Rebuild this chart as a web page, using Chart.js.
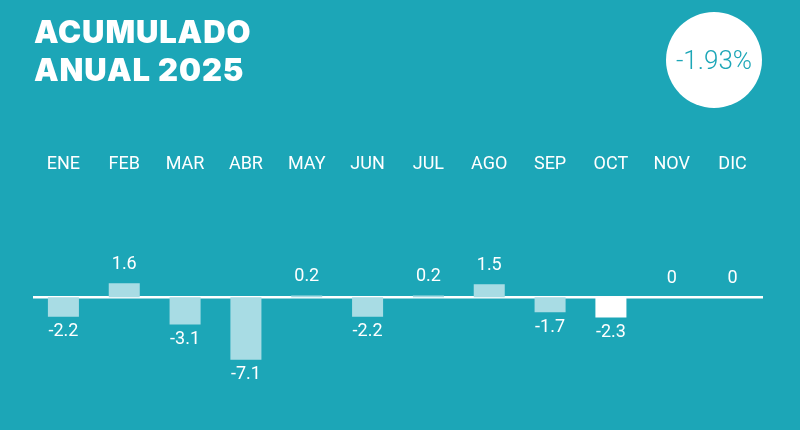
<!DOCTYPE html>
<html>
<head>
<meta charset="utf-8">
<script src="https://cdn.jsdelivr.net/npm/chart.js@4.4.1/dist/chart.umd.min.js"></script>
<style>
  html, body { margin:0; padding:0; background:#1ca6b7; }
  #wrap { position:relative; width:800px; height:430px; background:#1ca6b7; overflow:hidden; }
  #chart { position:absolute; left:0; top:0; }
  #title { position:absolute; left:34px; top:13px; color:#fff; font-family:"Inter","Roboto",sans-serif; font-weight:900; font-size:31px; line-height:38px; letter-spacing:0.9px; }
  #badge { position:absolute; left:666px; top:12px; width:96px; height:96px; border-radius:50%; background:#fff; color:#1ca6b7; font-family:"Roboto",sans-serif; font-weight:300; font-size:26px; display:flex; align-items:center; justify-content:center; }
</style>
</head>
<body>
<div id="wrap">
  <canvas id="chart" width="800" height="430"></canvas>
  <div id="title">ACUMULADO<br>ANUAL 2025</div>
  <div id="badge">-1.93%</div>
</div>
<script>
const months = ["ENE","FEB","MAR","ABR","MAY","JUN","JUL","AGO","SEP","OCT","NOV","DIC"];
const values = [-2.2, 1.6, -3.1, -7.1, 0.2, -2.2, 0.2, 1.5, -1.7, -2.3, 0, 0];
const valueLabels = ["-2.2","1.6","-3.1","-7.1","0.2","-2.2","0.2","1.5","-1.7","-2.3","0","0"];
const highlightIndex = 9;

const lightBar = "#a8dce4";
const barColors = months.map((m, i) => i === highlightIndex ? "#ffffff" : lightBar);

const zeroLinePlugin = {
  id: "zeroLine",
  beforeDatasetsDraw(chart) {
    const {ctx, chartArea, scales} = chart;
    const y = scales.y.getPixelForValue(0);
    ctx.save();
    ctx.strokeStyle = "#ffffff";
    ctx.lineWidth = 2.5;
    ctx.beginPath();
    ctx.moveTo(chartArea.left, y);
    ctx.lineTo(chartArea.right, y);
    ctx.stroke();
    ctx.restore();
  }
};

const valueLabelPlugin = {
  id: "valueLabels",
  afterDatasetsDraw(chart) {
    const {ctx} = chart;
    const meta = chart.getDatasetMeta(0);
    ctx.save();
    ctx.font = "18px Roboto";
    ctx.fillStyle = "#ffffff";
    ctx.textAlign = "center";
    ctx.textBaseline = "middle";
    meta.data.forEach((bar, i) => {
      const v = values[i];
      const p = bar.getProps(["x","y","base"], true);
      let y;
      if (v >= 0) y = Math.min(p.y, p.base) - 19;
      else y = Math.max(p.y, p.base) + 15;
      ctx.fillText(valueLabels[i], p.x, y);
    });
    ctx.restore();
  }
};

new Chart(document.getElementById("chart"), {
  type: "bar",
  data: {
    labels: months,
    datasets: [{
      data: values,
      backgroundColor: barColors,
      borderWidth: 0,
      categoryPercentage: 1.0,
      barPercentage: 0.51
    }]
  },
  options: {
    responsive: false,
    animation: false,
    devicePixelRatio: 1,
    layout: { padding: { top: 148, bottom: 23, left: 33, right: 37 } },
    plugins: { legend: { display: false }, tooltip: { enabled: false } },
    scales: {
      x: {
        position: "top",
        grid: { display: false, drawTicks: false },
        border: { display: false },
        ticks: { color: "#ffffff", font: { family: "Roboto", size: 18 }, padding: 6, maxRotation: 0, autoSkip: false }
      },
      y: {
        min: -12.5,
        max: 13.2,
        display: false
      }
    }
  },
  plugins: [zeroLinePlugin, valueLabelPlugin]
});
</script>
</body>
</html>
